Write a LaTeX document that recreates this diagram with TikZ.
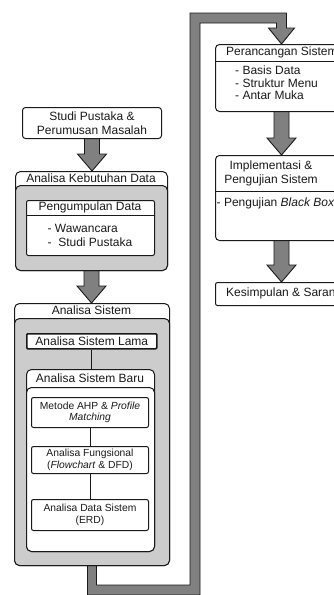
\documentclass[tikz,border=0pt]{standalone}
\usepackage{fontspec}
\setmainfont{Liberation Sans}
\usetikzlibrary{calc,backgrounds}
\definecolor{bodygrey}{HTML}{CCCCCC}
\definecolor{arrowgrey}{HTML}{808080}
\definecolor{edge}{HTML}{1A1A1A}
\newcommand\fA{\fontsize{12pt}{14pt}\selectfont}
\newcommand\fAt{\fontsize{12pt}{12.5pt}\selectfont}
\newcommand\fB{\fontsize{10.3pt}{11.5pt}\selectfont}
\tikzset{
 box/.style={draw=edge, line width=1pt, fill=white, inner sep=0pt, anchor=north west, rounded corners=#1},
 box/.default=3pt,
 greybody/.style={box=5pt, fill=bodygrey},
 txt/.style={inner sep=0pt, font=\fA, text=edge},
 small/.style={inner sep=0pt, font=\fB, text=edge, align=center},
 link/.style={draw=edge, line width=0.8pt},
 fatarrow/.style={draw=edge, line width=0.9pt, fill=arrowgrey, line join=miter},
}
\newcommand\fatdown[2]{%
 \draw[fatarrow] let \p1=(#1), \p2=(#2) in
 ({\x1-7.5pt},\y1) -- ({\x1-7.5pt},{\y2+17pt}) -- ({\x1-14.5pt},{\y2+17pt}) -- (\x1,\y2)
 -- ({\x1+14.5pt},{\y2+17pt}) -- ({\x1+7.5pt},{\y2+17pt}) -- ({\x1+7.5pt},\y1);}
\begin{document}
\begin{tikzpicture}[x=1pt,y=-1pt]
\useasboundingbox (0,0) rectangle (334,595);
\clip (0,0) rectangle (334,595);
% left column
\node[box=3pt, minimum width=139pt, minimum height=31pt] (studi) at (22,107) {};
\node[txt, align=center] (studiT) at (studi.center) {Studi Pustaka \&\\Perumusan Masalah};

\node[box=5pt, minimum width=152pt, minimum height=99pt] (keb) at (15,171) {};
\node[greybody, minimum width=152pt, minimum height=85pt] (kebB) at (15,185) {};
\node[txt] (kebT) at (91,178) {Analisa Kebutuhan Data};
\node[box=2pt, minimum width=128pt, minimum height=55pt] (peng) at (26,200) {};
\draw[link] (26,215) -- (154,215);
\node[txt] (pengT) at (90,207.5) {Pengumpulan Data};
\node[txt, align=left] (pengL) at (90,235) {- Wawancara\\-~~Studi Pustaka};

\node[box=5pt, minimum width=155pt, minimum height=262pt] (sys) at (14,303) {};
\node[greybody, minimum width=155pt, minimum height=247pt] (sysB) at (14,318) {};
\node[txt] (sysT) at (91.5,310.5) {Analisa Sistem};
\node[box=1pt, line width=1.6pt, minimum width=130pt, minimum height=15pt] (lama) at (26,333) {};
\node[txt] (lamaT) at (lama.center) {Analisa Sistem Lama};
\node[box=5pt, minimum width=128pt, minimum height=182pt] (baru) at (26,369) {};
\node[box=5pt, minimum width=128pt, minimum height=164pt] (baruB) at (26,387) {};
\node[txt] (baruT) at (90,378) {Analisa Sistem Baru};
\node[box=2pt, minimum width=117pt, minimum height=30pt] (ahp) at (31,397) {};
\node[small] (ahpT) at (ahp.center) {Metode AHP \& \textit{Profile}\\\textit{Matching}};
\node[box=2pt, minimum width=117pt, minimum height=27pt] (fung) at (31,446) {};
\node[small] (fungT) at (fung.center) {Analisa Fungsional\\(\textit{Flowchart} \& DFD)};
\node[box=2pt, minimum width=117pt, minimum height=31pt] (erd) at (31,499) {};
\node[small] (erdT) at (erd.center) {Analisa Data Sistem\\(ERD)};
\draw[link] (lama.south) -- (lama.south |- baru.north);
\draw[link] (ahp) -- (fung);
\draw[link] (fung) -- (erd);

% right column
\node[box=4pt, minimum width=132pt, minimum height=67pt] (per) at (215,44) {};
\draw[link] (215,61) -- (347,61);
\node[txt, anchor=west] (perT) at (226,52.5) {Perancangan Sistem};
\node[txt, font=\fAt, align=left, anchor=north west] (perL) at (235,66) {- Basis Data\\- Struktur Menu\\- Antar Muka};

\node[box=4pt, minimum width=132pt, minimum height=85pt] (impl) at (215,155) {};
\draw[link] (215,191) -- (347,191);
\node[txt, align=center] (implT) at (271,173) {Implementasi \&\\Pengujian Sistem};
\node[txt, anchor=west] (implL) at (216.5,203) {- Pengujian \textit{Black Box}};

\node[box=2pt, minimum width=132pt, minimum height=23pt] (kes) at (215,282) {};
\node[txt, anchor=west] (kesT) at (226,293.5) {Kesimpulan \& Saran};

\coordinate (bendA) at (195,590);
\coordinate (bendB) at (195,18);

\begin{pgfonlayer}{background}
\fill[white] (0,0) rectangle (334,595);
\fatdown{studi.south}{keb.north}
\fatdown{keb.south}{sys.north}
\fatdown{per.south}{impl.north}
\fatdown{impl.south}{kes.north}
\draw[fatarrow] let \p1=(sys.south), \p2=(per.north), \p3=(bendA), \p4=(bendB) in
 ({\x1-4.5pt},\y1) -- ({\x1-4.5pt},{\y3-5pt}) -- ({\x3+5pt},{\y3-5pt}) -- ({\x3+5pt},{\y4-5pt})
 -- ({\x2-5pt},{\y4-5pt}) -- ({\x2-5pt},{\y2+16pt}) -- ({\x2-13pt},{\y2+16pt}) -- (\x2,\y2)
 -- ({\x2+13pt},{\y2+16pt}) -- ({\x2+5pt},{\y2+16pt}) -- ({\x2+5pt},{\y4+5pt})
 -- ({\x3-5pt},{\y4+5pt}) -- ({\x3-5pt},{\y3+5pt}) -- ({\x1+4.5pt},{\y3+5pt}) -- ({\x1+4.5pt},\y1);
\end{pgfonlayer}
\end{tikzpicture}
\end{document}
